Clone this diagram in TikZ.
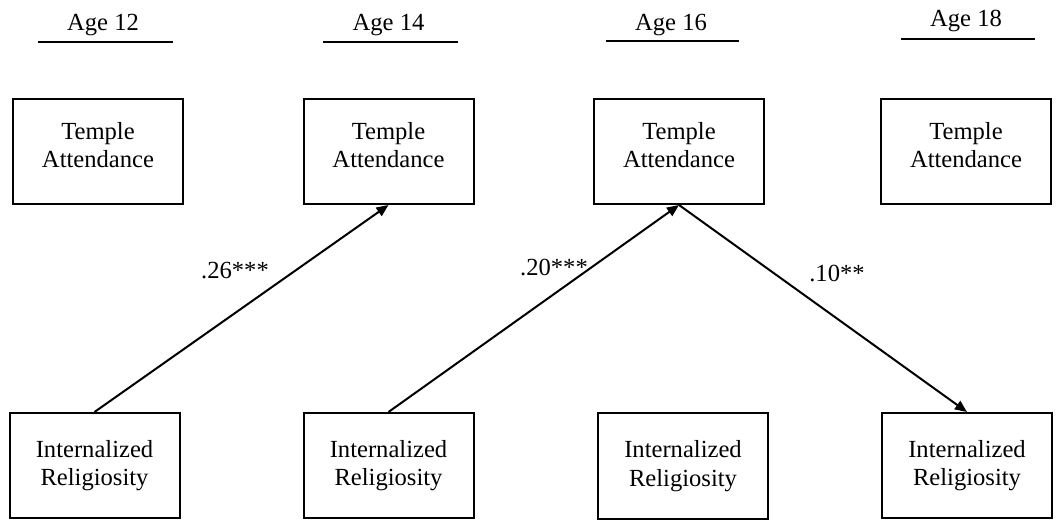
\documentclass[tikz,border=0pt]{standalone}
\usepackage{fontspec}
\setmainfont{Liberation Serif}
\usepackage{tikz}
\usetikzlibrary{arrows.meta}
\tikzset{
	box/.style={draw,line width=1pt,rectangle,minimum width=85pt,minimum height=52.5pt,inner sep=0pt,align=center,font=\fontsize{12.3}{14.3}\selectfont},
	tabox/.style={box,text depth=6.4pt},
	irbox/.style={box},
	agelabel/.style={anchor=base,inner sep=0pt,font=\fontsize{12.3}{14.3}\selectfont},
	coef/.style={anchor=base,inner sep=0pt,font=\fontsize{12.3}{14.3}\selectfont},
	rule/.style={line width=0.6pt},
	arr/.style={line width=1pt,-{Triangle[length=6pt,width=5pt]}}
}
\begin{document}
\begin{tikzpicture}[x=0.5pt,y=-0.5pt]
					\useasboundingbox (0,0) rectangle (1061,529);

					\node [agelabel] (age12) at (103,31) {Age 12};
					\node [agelabel] (age14) at (388.5,31) {Age 14};
					\node [agelabel] (age16) at (671,31) {Age 16};
					\node [agelabel] (age18) at (966,27) {Age 18};

					\draw [rule] (38,42) -- (173,42);
					\draw [rule] (323,42) -- (458,42);
					\draw [rule] (606,41) -- (739,41);
					\draw [rule] (901,39) -- (1035,39);

					\node [tabox] (ta12) at (98,151.5) {Temple\\Attendance};
					\node [tabox] (ta14) at (388.5,151.5) {Temple\\Attendance};
					\node [tabox] (ta16) at (679,151.5) {Temple\\Attendance};
					\node [tabox] (ta18) at (966,151.5) {Temple\\Attendance};

					\node [irbox] (ir12) at (94.5,465.5) {Internalized\\Religiosity};
					\node [irbox] (ir14) at (388.5,465.5) {Internalized\\Religiosity};
					\node [irbox] (ir16) at (683,466) {Internalized\\Religiosity};
					\node [irbox] (ir18) at (967,465.5) {Internalized\\Religiosity};

					\draw [arr] (ir12.north) -- (ta14.south);
					\draw [arr] (ir14.north) -- (ta16.south);
					\draw [arr] (ta16.south) -- (ir18.north);

					\node [coef] (c1) at (235,279) {.26***};
					\node [coef] (c2) at (554,276) {.20***};
					\node [coef] (c3) at (837,282) {.10**};
				\end{tikzpicture}
\end{document}
